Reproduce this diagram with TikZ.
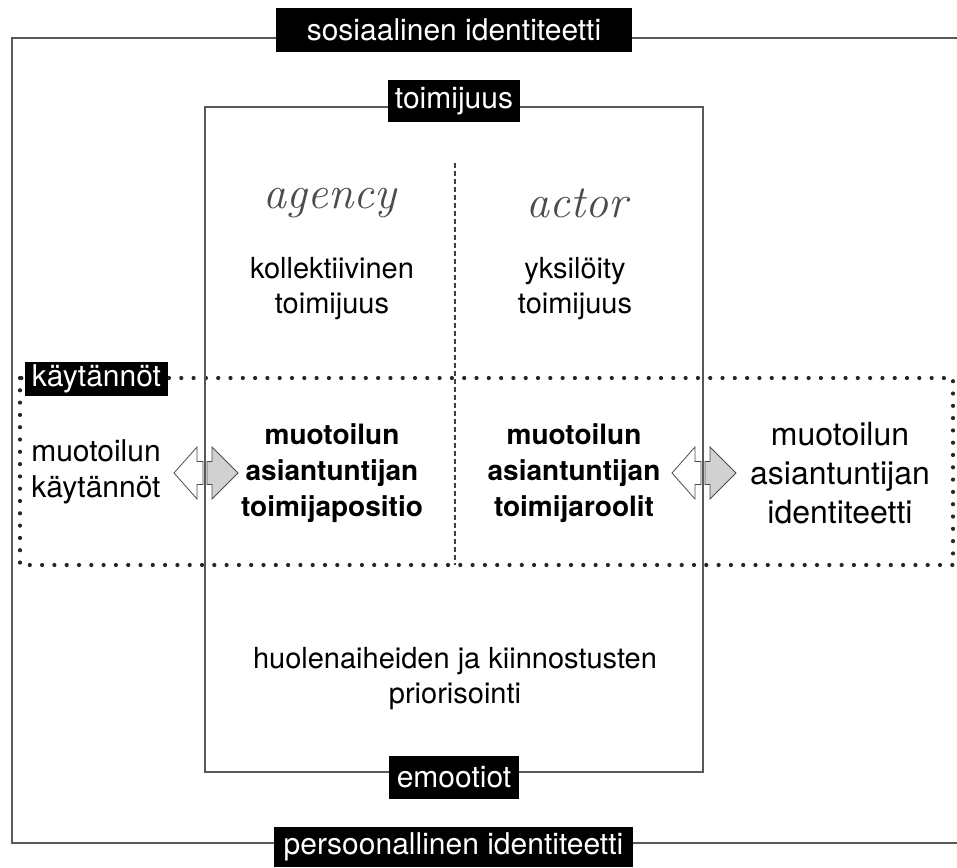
\documentclass[tikz,border=0pt]{standalone}
\usepackage{fontspec}
\newfontfamily\heros{TeX Gyre Heros}
\tikzset{
    tag/.style={fill=black, text=white, inner sep=0pt, font=\heros\fontsize{30}{36}\selectfont},
    body/.style={align=center, inner sep=0pt, font=\heros\fontsize{29}{35}\selectfont},
    bodyb/.style={align=center, inner sep=0pt, font=\heros\bfseries\fontsize{28}{36}\selectfont},
    hand/.style={inner sep=0pt, text=black!70, font=\fontsize{46}{50}\selectfont\itshape},
    frame/.style={draw=black!65, line width=1.5pt},
    dotline/.style={draw=black!85, line width=4.2pt, line cap=round, dash pattern=on 0pt off 12.3pt},
    dashline/.style={draw=black!75, line width=2.6pt, dash pattern=on 5pt off 3pt},
    warrow/.pic={\draw[black!70, fill=white, line width=0.8pt] (0,0) -- (23,-26) -- (23,-11.5) -- (29,-11.5) -- (29,11.5) -- (23,11.5) -- (23,26) -- cycle;},
    garrow/.pic={\draw[black!70, fill=black!18, line width=0.8pt] (0,-11.5) -- (5,-11.5) -- (5,-26) -- (31,0) -- (5,26) -- (5,11.5) -- (0,11.5) -- cycle;},
}
\begin{document}
\begin{tikzpicture}[x=1pt, y=-1pt]
    \useasboundingbox (0,0) rectangle (957,867);
    % frames
    \draw[dotline] (20,378) rectangle (953,565);
    \draw[dashline] (455,163) -- (455,565);
    \draw[frame] (205,107) rectangle (703,772);
    \draw[frame] (957,38) -- (12,38) -- (12,843) -- (957,843);
    % arrows
    \pic at (174,473) {warrow};
    \pic at (207,473) {garrow};
    \pic at (672,473) {warrow};
    \pic at (705,473) {garrow};
    % labels
    \node[tag, minimum width=356pt, minimum height=44pt] (sos) at (454,30) {sosiaalinen identiteetti};
    \node[tag, minimum width=132pt, minimum height=42pt] (toim) at (454,101) {toimijuus};
    \node[tag, minimum width=143pt, minimum height=34pt] (kay) at (96.5,379) {käytännöt};
    \node[tag, minimum width=130pt, minimum height=43pt] (emo) at (454,777.5) {emootiot};
    \node[tag, minimum width=359pt, minimum height=40pt] (pers) at (453.5,847) {persoonallinen identiteetti};
    % texts
    \node[hand] (agency) at (330,203) {agency};
    \node[hand] (actor) at (577,203) {actor};
    \node[body] (koll) at (332,289) {kollektiivinen\\toimijuus};
    \node[body] (yks) at (575,289) {yksilöity\\toimijuus};
    \node[body, font=\heros\fontsize{30}{36}\selectfont] (kayt) at (96,472) {muotoilun\\käytännöt};
    \node[bodyb] (pos) at (332,473) {muotoilun\\asiantuntijan\\toimijapositio};
    \node[bodyb] (rool) at (574,473) {muotoilun\\asiantuntijan\\toimijaroolit};
    \node[body, font=\heros\fontsize{32}{39}\selectfont] (iden) at (840,473) {muotoilun\\asiantuntijan\\identiteetti};
    \node[body] (huol) at (455,679) {huolenaiheiden ja kiinnostusten\\priorisointi};
\end{tikzpicture}
\end{document}
